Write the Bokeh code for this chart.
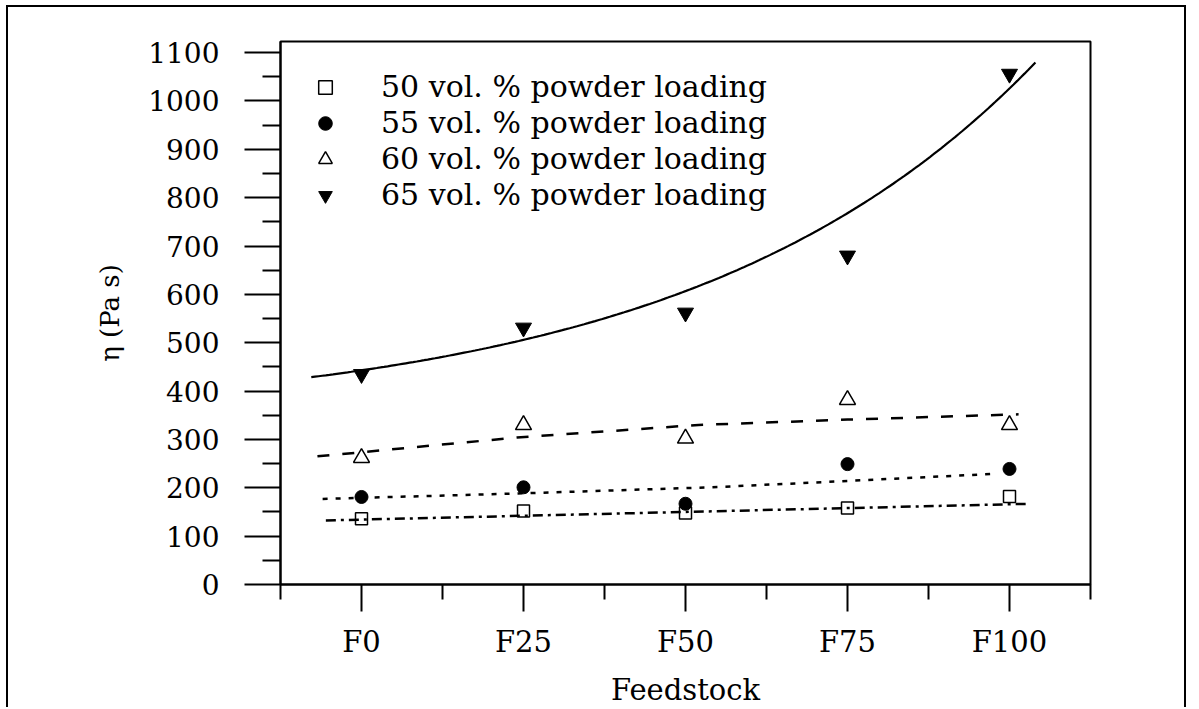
import numpy as np
from bokeh.plotting import figure
from bokeh.models import FixedTicker, Range1d, Legend, LegendItem
from bokeh.embed import file_html
from bokeh.resources import INLINE

# Feedstock composition (x) and its tick labels
feedstock = [0, 25, 50, 75, 100]
feedstock_labels = ["F0", "F25", "F50", "F75", "F100"]

# Viscosity (Pa s) for each powder loading
eta_50 = [136, 152, 148, 158, 182]
eta_55 = [181, 201, 167, 249, 239]
eta_60 = [262, 330, 302, 382, 330]
eta_65 = [435, 531, 562, 680, 1056]

# Trend lines through each series
trend_50_x = [-5.5, 102.7]
trend_50_y = [132.5, 166.8]
trend_55_x = [-6, 21, 54, 78, 98]
trend_55_y = [177, 187, 201, 216, 229]
trend_60_x = [-6.8, 24, 52, 75, 101.4]
trend_60_y = [265, 304, 330, 341, 352]
# exponential growth fit for 65 vol.%: y = y0 + A * exp(x / t)
fit_65_y0 = 338.0
fit_65_A = 105.0
fit_65_t = 53.2
fit_65_span = (-7.75, 104.0)

y_ticks = list(range(0, 1101, 100))
y_minor = list(range(50, 1101, 100))
x_minor = [-12.5, 12.5, 37.5, 62.5, 87.5, 112.5]

FONT = "DejaVu Serif"

p = figure(width=1180, height=702,
           x_range=Range1d(-12.5, 112.5), y_range=Range1d(0, 1123),
           output_backend="svg", toolbar_location=None,
           min_border_left=272, min_border_right=98,
           min_border_top=34, min_border_bottom=123,
           background_fill_color="white", border_fill_color="white")
p.styles = {"margin-left": "6px", "margin-top": "5px",
            "border-top": "2px solid black", "border-left": "2px solid black",
            "border-right": "2px solid black"}

p.grid.visible = False
p.outline_line_color = "black"
p.outline_line_width = 2

# axes
p.xaxis.ticker = FixedTicker(ticks=feedstock, minor_ticks=x_minor)
p.xaxis.major_label_overrides = {v: s for v, s in zip(feedstock, feedstock_labels)}
p.yaxis.ticker = FixedTicker(ticks=y_ticks, minor_ticks=y_minor)
for ax in (p.xaxis[0], p.yaxis[0]):
    ax.axis_line_color = "black"
    ax.axis_line_width = 2
    ax.major_tick_line_color = "black"
    ax.major_tick_line_width = 2
    ax.minor_tick_line_color = "black"
    ax.minor_tick_line_width = 2
    ax.major_tick_in = 0
    ax.minor_tick_in = 0
    ax.major_label_text_font = FONT
    ax.major_label_text_color = "black"
    ax.axis_label_text_font = FONT
    ax.axis_label_text_font_style = "normal"
    ax.axis_label_text_color = "black"

p.yaxis.major_tick_out = 36
p.yaxis.minor_tick_out = 18
p.yaxis.major_label_standoff = 25
p.yaxis.major_label_text_font_size = "28px"
p.yaxis.axis_label = "η (Pa s)"
p.yaxis.axis_label_text_font_size = "26px"
p.yaxis.axis_label_standoff = 20

p.xaxis.major_tick_out = 27
p.xaxis.minor_tick_out = 15
p.xaxis.major_label_standoff = 13
p.xaxis.major_label_text_font_size = "29px"
p.xaxis.axis_label = "Feedstock"
p.xaxis.axis_label_text_font_size = "29px"
p.xaxis.axis_label_standoff = 11

# trend lines
p.line(trend_50_x, trend_50_y, line_color="black", line_width=2.5, line_dash="10 5 3 5")
p.line(trend_55_x, trend_55_y, line_color="black", line_width=2.5, line_dash="5 8")
p.line(trend_60_x, trend_60_y, line_color="black", line_width=2.5, line_dash="12 13")
xs = np.linspace(fit_65_span[0], fit_65_span[1], 200)
p.line(xs, fit_65_y0 + fit_65_A * np.exp(xs / fit_65_t), line_color="black", line_width=2.2)

# data points
r50 = p.scatter(feedstock, eta_50, marker="square", size=12, fill_color=None,
                line_color="black", line_width=1.5)
r55 = p.scatter(feedstock, eta_55, marker="circle", size=13, fill_color="black",
                line_color="black")
r60 = p.scatter(feedstock, eta_60, marker="triangle", size=16, fill_color=None,
                line_color="black", line_width=1.5)
r65 = p.scatter(feedstock, eta_65, marker="inverted_triangle", size=16, fill_color="black",
                line_color="black")

legend = Legend(items=[
    LegendItem(label="50 vol. % powder loading", renderers=[r50]),
    LegendItem(label="55 vol. % powder loading", renderers=[r55]),
    LegendItem(label="60 vol. % powder loading", renderers=[r60]),
    LegendItem(label="65 vol. % powder loading", renderers=[r65]),
], location="top_left")
legend.margin = 28
legend.padding = 0
legend.glyph_width = 34
legend.glyph_height = 34
legend.label_height = 34
legend.spacing = 1
legend.label_standoff = 39
legend.label_text_font = FONT
legend.label_text_font_size = "30px"
legend.label_text_color = "black"
legend.border_line_color = None
legend.background_fill_alpha = 0
p.add_layout(legend)

open("out.html", "w").write(file_html(p, INLINE))
